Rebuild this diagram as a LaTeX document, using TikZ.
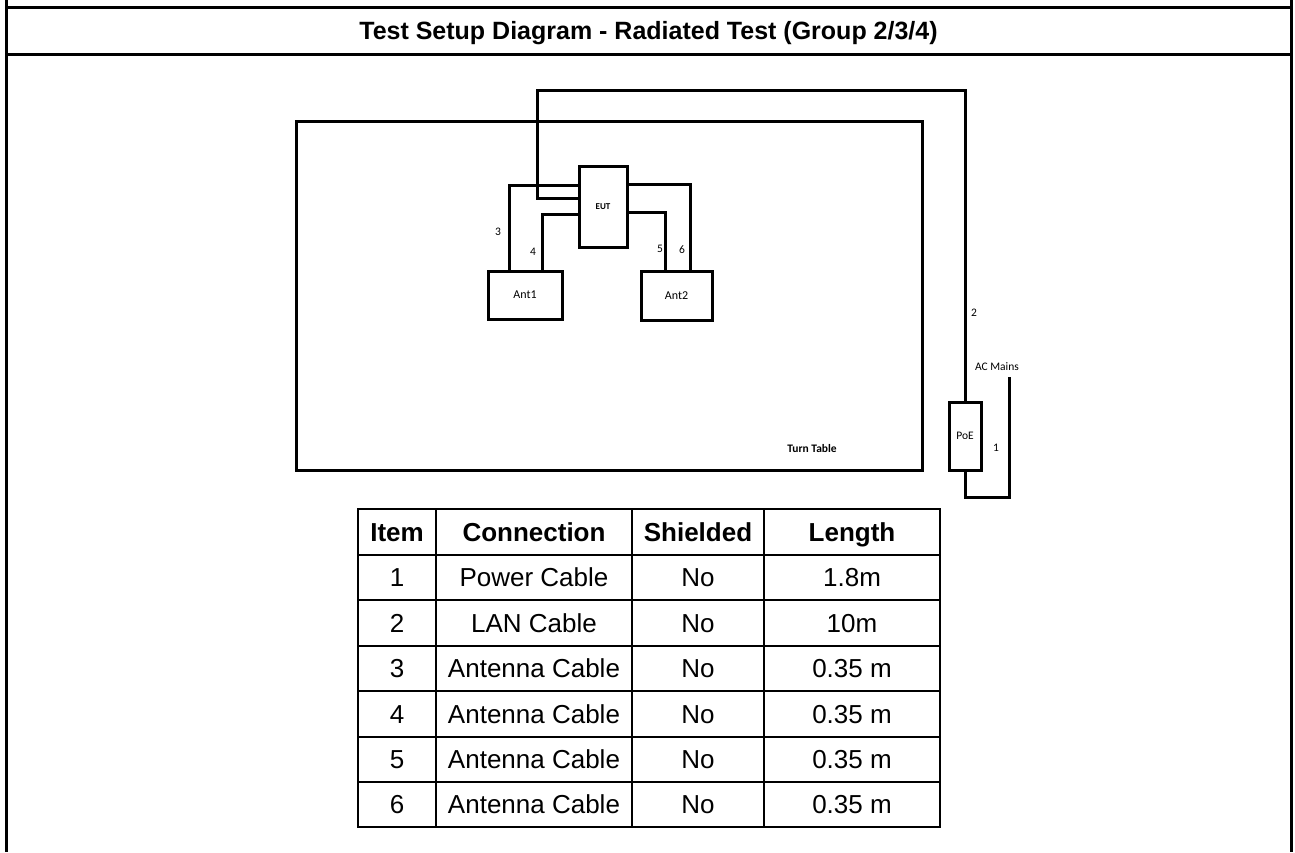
\documentclass[tikz,border=0pt]{standalone}
\usepackage{fontspec}
\setmainfont{Liberation Sans}
\newfontfamily\calfont{Carlito}
\begin{document}
\begin{tikzpicture}[x=1pt,y=-1pt,
  frame/.style={line width=3pt, draw=black},
  cable/.style={line width=3pt, draw=black, line cap=rect},
  box/.style={draw=black, line width=3pt, inner sep=0pt, font=\calfont\fontsize{12}{14}\selectfont},
  lbl/.style={inner sep=0pt, text height=7.5pt, text depth=0pt, font=\calfont\fontsize{11.5}{13}\selectfont},
  tline/.style={line width=2pt, draw=black},
  th/.style={inner sep=0pt, text height=18.6pt, text depth=0pt, font=\bfseries\fontsize{26}{30}\selectfont},
  td/.style={inner sep=0pt, text height=18.6pt, text depth=0pt, font=\fontsize{26}{30}\selectfont}
]
\useasboundingbox (0,0) rectangle (1295,852);
\fill[white] (0,0) rectangle (1295,852);
% outer frame
\draw[frame] (6,0) -- (6,852);
\draw[frame] (1291,0) -- (1291,852);
\draw[frame] (6,7.5) -- (1291,7.5);
\draw[frame] (6,54) -- (1291,54);
\node[inner sep=0pt, text height=17.9pt, text depth=0pt, font=\bfseries\fontsize{25}{29}\selectfont] (title) at (648.5,31) {Test Setup Diagram - Radiated Test (Group 2/3/4)};

% turn table
\node[draw=black, line width=3pt, minimum width=626pt, minimum height=349pt, inner sep=0pt] (tt) at (609,295.5) {};
\node[inner sep=0pt, text height=7.5pt, text depth=0pt, font=\calfont\bfseries\fontsize{11.5}{13}\selectfont] (ttl) at (812,449) {Turn Table};

% boxes
\node[box, minimum width=48pt, minimum height=81pt, font=\calfont\bfseries\fontsize{9}{11}\selectfont] (eut) at (603,207) {EUT};
\node[box, minimum width=74pt, minimum height=48pt] (ant1) at (525,295) {Ant1};
\node[box, minimum width=71pt, minimum height=49pt] (ant2) at (676.5,295.5) {Ant2};
\node[box, minimum width=32pt, minimum height=68pt, font=\calfont\fontsize{11.5}{13}\selectfont] (poe) at (965,436) {PoE};

% coordinates for cable bends
\coordinate (c3) at (509,185);
\coordinate (c4) at (542,214);
\coordinate (c5) at (665,212);
\coordinate (c6) at (690,184);
\coordinate (lan) at (537,198);
\coordinate (lantop) at (537,90);
\coordinate (pwbot) at (1009,497);
\coordinate (acm) at (1009,378);

% cables
\draw[cable] (eut.west |- c3) -| (ant1.north -| c3);
\draw[cable] (eut.west |- c4) -| (ant1.north -| c4);
\draw[cable] (eut.east |- c5) -| (ant2.north -| c5);
\draw[cable] (eut.east |- c6) -| (ant2.north -| c6);
\draw[cable] (eut.west |- lan) -| (lantop) -| (poe.north);
\draw[cable] (poe.south) |- (pwbot) -- (acm);

% labels
\node[lbl] (l3) at (498,232) {3};
\node[lbl] (l4) at (533,252) {4};
\node[lbl] (l5) at (660,249) {5};
\node[lbl] (l6) at (682,250) {6};
\node[lbl] (l2) at (974,313) {2};
\node[lbl] (l1) at (996,448) {1};
\node[lbl] (lac) at (997,367) {AC Mains};

% table
\draw[tline] (358,509) rectangle (940,827);
\foreach \x in {436,632,764} \draw[tline] (\x,509) -- (\x,827);
\foreach \y in {555,600,646,691,737,782} \draw[tline] (358,\y) -- (940,\y);
\node[th] (h1) at (397,532) {Item};
\node[th] (h2) at (534,532) {Connection};
\node[th] (h3) at (698,532) {Shielded};
\node[th] (h4) at (852,532) {Length};
\foreach \n/\c/\l [count=\i] in {1/Power Cable/1.8m, 2/LAN Cable/10m, 3/Antenna Cable/0.35 m, 4/Antenna Cable/0.35 m, 5/Antenna Cable/0.35 m, 6/Antenna Cable/0.35 m}{
  \pgfmathsetmacro{\yy}{577.5+45.4*(\i-1)}
  \node[td] (r\i a) at (397,\yy) {\n};
  \node[td] (r\i b) at (534,\yy) {\c};
  \node[td] (r\i c) at (698,\yy) {No};
  \node[td] (r\i d) at (852,\yy) {\l};
}
\end{tikzpicture}
\end{document}
